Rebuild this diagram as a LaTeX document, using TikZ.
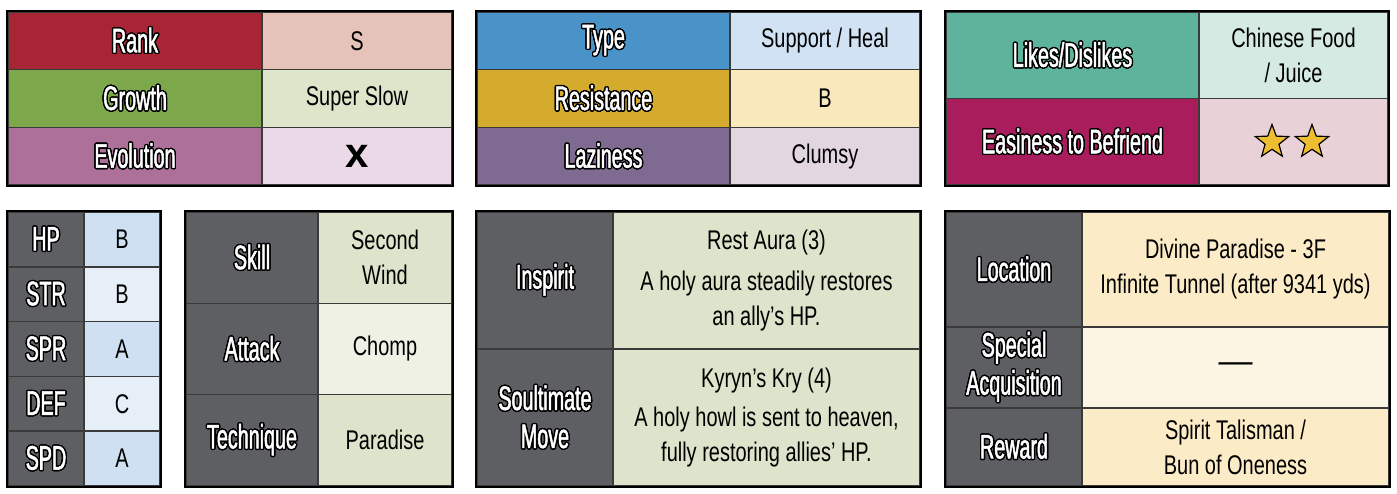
\documentclass[tikz,border=0pt]{standalone}
\usepackage{fontspec}
\setmainfont{Liberation Sans}[FakeStretch=0.74]
\newfontfamily\labfont{Liberation Sans}[FakeStretch=0.58,FakeBold=1.5]
\newfontfamily\plainfont{Liberation Sans}
\usepackage[copies]{contour}
\contourlength{1.4pt}
\usetikzlibrary{shapes.geometric}
\definecolor{rank-red}{HTML}{A82535}
\definecolor{rank-light}{HTML}{E5C3B9}
\definecolor{growth-green}{HTML}{7CA74B}
\definecolor{growth-light}{HTML}{DDE6CB}
\definecolor{evo-pink}{HTML}{AD7199}
\definecolor{evo-light}{HTML}{ECD9E7}
\definecolor{type-blue}{HTML}{4A93C8}
\definecolor{type-light}{HTML}{D0E2F3}
\definecolor{res-gold}{HTML}{D4AB2C}
\definecolor{res-light}{HTML}{F8E8BC}
\definecolor{lazy-purple}{HTML}{7F6A92}
\definecolor{lazy-light}{HTML}{E2D6E0}
\definecolor{likes-teal}{HTML}{5DB39C}
\definecolor{likes-light}{HTML}{D4EAE3}
\definecolor{easy-magenta}{HTML}{A91D5D}
\definecolor{easy-light}{HTML}{E9D1D8}
\definecolor{slate}{HTML}{5E5F63}
\definecolor{stat-blue}{HTML}{CFE0F3}
\definecolor{stat-pale}{HTML}{E6EEF8}
\definecolor{skill-green}{HTML}{DDE4CB}
\definecolor{skill-pale}{HTML}{EEF1E4}
\definecolor{loc-cream}{HTML}{FCEBC7}
\definecolor{loc-pale}{HTML}{FDF5E3}
\definecolor{star-yellow}{HTML}{EEBE30}
\definecolor{cell-line}{HTML}{3A3A3A}
\newcommand{\lbl}[1]{\contour{black}{#1}}

\begin{document}
\begin{tikzpicture}[x=1pt, y=-1pt,
    lab/.style={fill=#1, draw=cell-line, line width=1.5pt, text=white, align=center, inner sep=0pt,
      font=\labfont\fontsize{34}{38}\selectfont},
    val/.style={fill=#1, draw=cell-line, line width=1.5pt, text=black, align=center, inner sep=0pt,
      font=\fontsize{27}{35}\selectfont},
    frame/.style={draw=black, line width=2pt}]
  \useasboundingbox[fill=white] (0,0) rectangle (1397,493);

  % rank / growth / evolution
  \node[lab=rank-red, minimum width=254pt, minimum height=57.7pt] (rank) at (135,40.8) {\lbl{Rank}};
  \node[val=rank-light, minimum width=190pt, minimum height=57.7pt] (rankv) at (357,40.8) {S};
  \node[lab=growth-green, minimum width=254pt, minimum height=57.7pt] (growth) at (135,98.5) {\lbl{Growth}};
  \node[val=growth-light, minimum width=190pt, minimum height=57.7pt] (growthv) at (357,98.5) {Super Slow};
  \node[lab=evo-pink, minimum width=254pt, minimum height=57.7pt] (evo) at (135,156.2) {\lbl{Evolution}};
  \node[val=evo-light, minimum width=190pt, minimum height=57.7pt, font=\plainfont\bfseries\fontsize{42}{42}\selectfont] (evov) at (357,156.2) {x};
  \draw[frame] (rank.north west) rectangle (evov.south east);

  % type / resistance / laziness
  \node[lab=type-blue, minimum width=253pt, minimum height=57.7pt] (type) at (603.5,40.8) {\lbl{Type}};
  \node[val=type-light, minimum width=190pt, minimum height=57.7pt] (typev) at (825,40.8) {Support / Heal};
  \node[lab=res-gold, minimum width=253pt, minimum height=57.7pt] (res) at (603.5,98.5) {\lbl{Resistance}};
  \node[val=res-light, minimum width=190pt, minimum height=57.7pt] (resv) at (825,98.5) {B};
  \node[lab=lazy-purple, minimum width=253pt, minimum height=57.7pt] (lazy) at (603.5,156.2) {\lbl{Laziness}};
  \node[val=lazy-light, minimum width=190pt, minimum height=57.7pt] (lazyv) at (825,156.2) {Clumsy};
  \draw[frame] (type.north west) rectangle (lazyv.south east);

  % likes / befriend
  \node[lab=likes-teal, minimum width=253pt, minimum height=86.5pt] (likes) at (1072.5,55.3) {\lbl{Likes/Dislikes}};
  \node[val=likes-light, minimum width=189pt, minimum height=86.5pt] (likesv) at (1293.5,55.3) {Chinese Food\\/ Juice};
  \node[lab=easy-magenta, minimum width=253pt, minimum height=86.5pt] (easy) at (1072.5,141.8) {\lbl{Easiness to Befriend}};
  \node[val=easy-light, minimum width=189pt, minimum height=86.5pt] (easyv) at (1293.5,141.8) {};
  \node[star, star points=5, star point ratio=2.4, fill=star-yellow, draw=black, line width=1.2pt,
    minimum size=35pt, inner sep=0pt] (star1) at (1272,142) {};
  \node[star, star points=5, star point ratio=2.4, fill=star-yellow, draw=black, line width=1.2pt,
    minimum size=35pt, inner sep=0pt] (star2) at (1312,142) {};
  \draw[frame] (likes.north west) rectangle (easyv.south east);

  % stats
  \node[lab=slate, minimum width=76pt, minimum height=54.8pt] (hp) at (46,239.4) {\lbl{HP}};
  \node[val=stat-blue, minimum width=76pt, minimum height=54.8pt] (hpv) at (122,239.4) {B};
  \node[lab=slate, minimum width=76pt, minimum height=54.8pt] (str) at (46,294.2) {\lbl{STR}};
  \node[val=stat-pale, minimum width=76pt, minimum height=54.8pt] (strv) at (122,294.2) {B};
  \node[lab=slate, minimum width=76pt, minimum height=54.8pt] (spr) at (46,349) {\lbl{SPR}};
  \node[val=stat-blue, minimum width=76pt, minimum height=54.8pt] (sprv) at (122,349) {A};
  \node[lab=slate, minimum width=76pt, minimum height=54.8pt] (def) at (46,403.8) {\lbl{DEF}};
  \node[val=stat-pale, minimum width=76pt, minimum height=54.8pt] (defv) at (122,403.8) {C};
  \node[lab=slate, minimum width=76pt, minimum height=54.8pt] (spd) at (46,458.6) {\lbl{SPD}};
  \node[val=stat-blue, minimum width=76pt, minimum height=54.8pt] (spdv) at (122,458.6) {A};
  \draw[frame] (hp.north west) rectangle (spdv.south east);

  % skill / attack / technique
  \node[lab=slate, minimum width=132pt, minimum height=91.3pt] (skill) at (252,257.7) {\lbl{Skill}};
  \node[val=skill-green, minimum width=134pt, minimum height=91.3pt] (skillv) at (385,257.7) {Second\\Wind};
  \node[lab=slate, minimum width=132pt, minimum height=91.3pt] (attack) at (252,349) {\lbl{Attack}};
  \node[val=skill-pale, minimum width=134pt, minimum height=91.3pt] (attackv) at (385,349) {Chomp};
  \node[lab=slate, minimum width=132pt, minimum height=91.3pt] (tech) at (252,440.3) {\lbl{Technique}};
  \node[val=skill-green, minimum width=134pt, minimum height=91.3pt] (techv) at (385,440.3) {Paradise};
  \draw[frame] (skill.north west) rectangle (techv.south east);

  % inspirit / soultimate
  \node[lab=slate, minimum width=136pt, minimum height=137pt] (inspirit) at (545,280.5) {\lbl{Inspirit}};
  \node[val=skill-green, minimum width=307pt, minimum height=137pt] (inspiritv) at (766.5,280.5)
    {Rest Aura (3)\\[6pt]A holy aura steadily restores\\an ally’s HP.};
  \node[lab=slate, minimum width=136pt, minimum height=137pt] (soult) at (545,417.5) {\lbl{Soultimate}\\\lbl{Move}};
  \node[val=skill-green, minimum width=307pt, minimum height=137pt] (soultv) at (766.5,417.5)
    {Kyryn’s Kry (4)\\[4pt]A holy howl is sent to heaven,\\fully restoring allies’ HP.};
  \draw[frame] (inspirit.north west) rectangle (soultv.south east);

  % location / acquisition / reward
  \node[lab=slate, minimum width=136pt, minimum height=115pt] (loc) at (1014,269.5) {\lbl{Location}};
  \node[val=loc-cream, minimum width=307pt, minimum height=115pt] (locv) at (1235.5,269.5)
    {Divine Paradise - 3F\\Infinite Tunnel (after 9341 yds)};
  \node[lab=slate, minimum width=136pt, minimum height=81pt] (special) at (1014,367.5) {\lbl{Special}\\\lbl{Acquisition}};
  \node[val=loc-pale, minimum width=307pt, minimum height=81pt, font=\plainfont\fontsize{34}{34}\selectfont] (specialv) at (1235.5,367.5) {—};
  \node[lab=slate, minimum width=136pt, minimum height=78pt] (reward) at (1014,447) {\lbl{Reward}};
  \node[val=loc-cream, minimum width=307pt, minimum height=78pt] (rewardv) at (1235.5,447)
    {Spirit Talisman /\\Bun of Oneness};
  \draw[frame] (loc.north west) rectangle (rewardv.south east);
\end{tikzpicture}
\end{document}
